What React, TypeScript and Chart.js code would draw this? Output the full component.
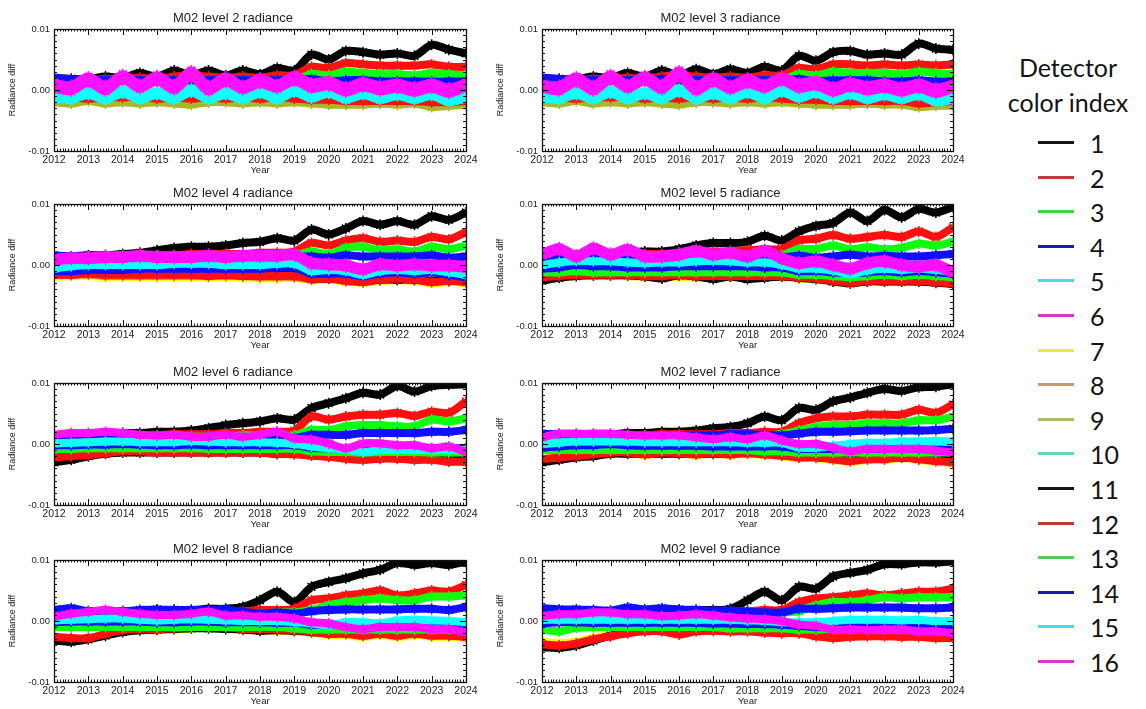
import React, { useEffect, useRef } from "react";
import { Chart, registerables } from "chart.js";

Chart.register(...registerables);

// ---- axes / categories -------------------------------------------------
// sample times (half-year grid)
const YEARS = [
  2012, 2012.5, 2013, 2013.5, 2014, 2014.5, 2015, 2015.5, 2016, 2016.5, 2017, 2017.5,
  2018, 2018.5, 2019, 2019.5, 2020, 2020.5, 2021, 2021.5, 2022, 2022.5, 2023, 2023.5, 2024,
];
const X_TICKS = [2012, 2013, 2014, 2015, 2016, 2017, 2018, 2019, 2020, 2021, 2022, 2023, 2024];
// radiance diff values below are in units of 0.001
const Y_TICKS = [-10, 0, 10];
const X_MINOR_PER_MAJOR = 12;
const Y_MINOR_PER_MAJOR = 10;

const DETECTORS = [1, 2, 3, 4, 5, 6, 7, 8, 9, 10, 11, 12, 13, 14, 15, 16];
const PLOT_COLORS = [
  "#000000", "#ff1010", "#10ff10", "#1010ff", "#10ffff", "#ff10ff", "#ffff20", "#d8982a",
  "#a8b828", "#40e0b8", "#000000", "#ff1010", "#10ff10", "#1010ff", "#10ffff", "#ff10ff",
];
const LEGEND_COLORS = [
  "#151515", "#c23b3b", "#3ed63e", "#1c1ca8", "#3ee0e8", "#d838c8", "#f2ea48", "#c89a68",
  "#b4bc6c", "#62d6b8", "#151515", "#bc3c3c", "#5ac85a", "#1c1ca8", "#3ee0e8", "#d838c8",
];
// bottom layers first (higher order = drawn earlier)
const DRAW_ORDER = [24, 23, 22, 20, 17, 15, 30, 29, 28, 27, 26, 25, 21, 19, 18, 16];

// ---- level 2 -----------------------------------------------------------
const L2_D01 = [2.0, 1.8, 1.8, 2.2, 2.0, 2.8, 2.2, 3.2, 2.4, 3.2, 2.4, 3.2, 2.6, 3.6, 3.2, 5.8, 5.0, 6.4, 6.2, 5.8, 6.0, 5.6, 7.4, 6.6, 6.0];
const L2_D02 = [1.6, 1.6, 1.6, 1.8, 1.8, 2.0, 1.8, 2.2, 2.4, 2.2, 2.0, 2.2, 2.0, 2.4, 2.4, 3.8, 3.6, 4.4, 4.2, 4.0, 4.0, 4.0, 4.2, 3.8, 3.8];
const L2_D03 = [1.2, 1.2, 1.2, 1.4, 1.4, 1.6, 1.4, 1.6, 1.4, 1.6, 1.4, 1.6, 1.4, 1.6, 1.6, 2.6, 2.4, 3.0, 2.8, 2.6, 2.6, 2.4, 2.8, 2.6, 2.4];
const L2_D04 = [2.0, 1.8, 1.6, 1.6, 1.6, 1.6, 1.6, 1.6, 1.6, 1.6, 1.6, 1.6, 1.6, 1.6, 1.6, 1.8, 1.4, 1.6, 1.6, 1.4, 1.4, 1.4, 1.4, 1.4, 1.4];
const L2_D05 = [-0.8, -1.2, -0.2, -1.2, 0.0, -1.0, -0.2, -1.0, 0.2, -1.2, -0.2, -1.0, 0.0, -1.0, 0.2, -0.8, 0.0, -1.0, -0.2, -1.0, -0.4, -1.0, -0.4, -1.4, -0.8];
const L2_D06 = [1.2, 0.8, 2.2, 0.8, 2.6, 1.0, 2.4, 1.0, 3.2, 0.8, 2.2, 0.8, 2.0, 1.0, 2.4, 1.2, 1.6, 0.6, 1.4, 0.8, 1.2, 0.6, 1.2, 0.4, 1.2];
const L2_D08 = [-1.8, -2.0, -1.6, -2.0, -1.8, -2.0, -1.8, -2.0, -2.2, -2.0, -1.8, -2.0, -1.8, -2.0, -1.8, -2.0, -2.2, -2.2, -2.2, -2.2, -2.2, -2.0, -2.6, -2.4, -2.2];
const L2_D09 = [-2.0, -2.2, -1.8, -2.2, -2.0, -2.2, -2.0, -2.2, -2.4, -2.0, -2.0, -2.2, -2.0, -2.2, -2.0, -2.2, -2.4, -2.4, -2.4, -2.2, -2.4, -2.2, -2.8, -2.6, -2.4];
const L2_D12 = [-1.4, -1.2, -1.4, -1.2, -1.2, -1.0, -1.4, -1.2, -1.4, -1.2, -1.4, -1.2, -1.4, -1.2, -1.4, -1.6, -1.6, -1.8, -1.8, -1.8, -1.8, -1.8, -2.0, -2.0, -1.8];
const L2_D15 = [-1.4, -1.6, -0.8, -1.6, -0.6, -1.6, -0.8, -1.6, -0.4, -1.6, -0.8, -1.6, -0.6, -1.6, -0.4, -1.4, -0.6, -1.6, -0.8, -1.6, -1.0, -1.6, -1.0, -2.0, -1.4];
const L2_D16 = [0.2, -0.2, 1.2, -0.2, 1.6, 0.2, 1.4, 0.0, 2.0, -0.2, 1.2, 0.0, 1.0, 0.2, 1.4, 0.2, 0.6, -0.4, 0.4, -0.2, 0.2, -0.4, 0.2, -0.6, 0.4];

// ---- level 3 -----------------------------------------------------------
const L3_D01 = [2.0, 1.8, 1.8, 2.2, 2.0, 2.8, 2.2, 3.2, 2.4, 3.4, 2.6, 3.4, 2.8, 3.8, 3.2, 5.6, 4.8, 6.2, 6.4, 5.8, 6.0, 5.8, 7.6, 6.8, 6.6];
const L3_D02 = [1.6, 1.6, 1.6, 1.8, 1.8, 2.0, 1.8, 2.2, 2.4, 2.2, 2.0, 2.2, 2.0, 2.4, 2.4, 3.6, 3.4, 4.2, 4.2, 4.0, 4.2, 4.0, 4.2, 4.0, 4.2];
const L3_D03 = [1.2, 1.2, 1.2, 1.4, 1.4, 1.6, 1.4, 1.6, 1.4, 1.6, 1.4, 1.6, 1.4, 1.6, 1.6, 2.6, 2.4, 3.0, 2.8, 2.8, 2.8, 2.6, 3.0, 2.8, 2.6];
const L3_D04 = [2.0, 1.8, 1.6, 1.6, 1.6, 1.6, 1.6, 1.8, 1.6, 1.6, 1.6, 1.6, 1.6, 1.6, 1.6, 1.8, 1.4, 1.6, 1.6, 1.6, 1.4, 1.4, 1.6, 1.4, 1.4];
const L3_D05 = [-0.8, -1.2, -0.2, -1.2, 0.0, -1.0, -0.2, -1.0, 0.2, -1.2, -0.2, -1.0, 0.0, -1.0, 0.2, -0.8, 0.0, -1.0, -0.2, -1.0, -0.4, -1.0, -0.4, -1.4, -1.0];
const L3_D06 = [1.0, 0.8, 2.2, 0.8, 2.6, 1.0, 2.4, 1.0, 3.2, 0.8, 2.2, 0.8, 2.0, 1.0, 2.2, 1.2, 1.6, 0.6, 1.4, 0.8, 1.2, 0.6, 1.2, 0.4, 1.0];
const L3_D08 = [-1.8, -2.0, -1.6, -2.0, -1.8, -2.0, -1.8, -2.0, -2.2, -2.0, -1.8, -2.0, -1.8, -2.0, -1.8, -2.0, -2.2, -2.2, -2.2, -2.2, -2.2, -2.2, -2.6, -2.4, -2.4];
const L3_D09 = [-2.0, -2.2, -1.8, -2.2, -2.0, -2.2, -2.0, -2.2, -2.4, -2.0, -2.0, -2.2, -2.0, -2.2, -2.0, -2.2, -2.4, -2.4, -2.4, -2.2, -2.4, -2.4, -2.8, -2.6, -2.6];
const L3_D12 = [-1.4, -1.2, -1.4, -1.2, -1.2, -1.0, -1.4, -1.2, -1.4, -1.2, -1.4, -1.2, -1.4, -1.2, -1.4, -1.6, -1.6, -1.8, -1.8, -1.8, -1.8, -1.8, -2.2, -2.0, -1.8];
const L3_D15 = [-1.4, -1.6, -0.8, -1.6, -0.6, -1.6, -0.8, -1.6, -0.4, -1.6, -0.8, -1.6, -0.6, -1.6, -0.4, -1.4, -0.6, -1.6, -0.8, -1.6, -1.0, -1.6, -1.0, -2.0, -1.6];
const L3_D16 = [0.2, -0.2, 1.2, -0.2, 1.6, 0.2, 1.4, 0.0, 2.0, -0.2, 1.2, 0.0, 1.0, 0.2, 1.4, 0.2, 0.6, -0.4, 0.4, -0.2, 0.2, -0.4, 0.2, -0.6, 0.2];

// ---- level 4 -----------------------------------------------------------
const L4_D01 = [1.4, 1.4, 1.6, 1.6, 1.8, 2.0, 2.4, 2.8, 3.0, 3.0, 3.2, 3.6, 3.8, 4.4, 4.0, 5.8, 5.0, 6.0, 7.2, 6.6, 7.2, 6.6, 8.0, 7.4, 8.6];
const L4_D02 = [1.2, 1.2, 1.4, 1.4, 1.4, 1.6, 1.6, 1.6, 1.8, 1.8, 1.8, 1.8, 2.0, 2.0, 2.2, 3.6, 3.2, 4.0, 4.4, 3.8, 4.0, 3.8, 4.6, 4.2, 5.4];
const L4_D03 = [1.0, 1.0, 1.0, 1.2, 1.2, 1.2, 1.2, 1.4, 1.4, 1.4, 1.4, 1.4, 1.4, 1.6, 1.6, 2.2, 1.8, 2.8, 3.0, 2.4, 2.6, 2.2, 3.0, 2.6, 3.2];
const L4_D04 = [1.6, 1.4, 1.4, 1.4, 1.4, 1.4, 1.4, 1.4, 1.4, 1.4, 1.4, 1.4, 1.4, 1.4, 1.4, 1.4, 1.2, 1.6, 1.4, 1.4, 1.4, 1.4, 1.6, 1.2, 1.4];
const L4_D05 = [-0.6, -0.2, 0.0, 0.0, 0.0, 0.0, 0.0, 0.2, 0.2, 0.2, 0.0, 0.0, 0.0, 0.2, 0.2, -1.0, -0.8, -1.0, -1.6, -1.0, -0.8, -1.0, -0.8, -1.2, -1.6];
const L4_D06 = [1.2, 1.4, 1.4, 1.6, 1.6, 1.8, 1.6, 1.6, 1.6, 1.8, 1.6, 1.8, 1.8, 1.8, 2.0, 0.6, 0.4, 0.2, -0.4, 0.4, 0.2, 0.4, 0.2, 0.2, 0.0];
const L4_D07 = [-1.9, -1.8, -1.8, -2.0, -1.9, -2.0, -2.0, -2.0, -2.0, -2.1, -2.0, -2.1, -2.2, -2.2, -2.1, -2.5, -2.4, -2.7, -2.9, -2.6, -2.5, -2.6, -3.0, -2.8, -3.0];
const L4_D08 = [-1.6, -1.6, -1.6, -1.8, -1.8, -1.8, -1.8, -1.8, -1.8, -1.8, -1.8, -1.8, -2.0, -2.0, -2.0, -2.4, -2.2, -2.4, -2.6, -2.4, -2.4, -2.4, -2.6, -2.6, -2.8];
const L4_D11 = [-1.4, -1.4, -1.2, -1.2, -1.2, -1.2, -1.2, -1.4, -1.4, -1.4, -1.4, -1.4, -1.4, -1.4, -1.6, -2.2, -2.2, -2.4, -2.6, -2.4, -2.4, -2.4, -2.6, -2.6, -2.6];
const L4_D12 = [-1.6, -1.6, -1.4, -1.6, -1.6, -1.6, -1.6, -1.6, -1.6, -1.8, -1.6, -1.8, -1.8, -1.8, -1.8, -2.2, -2.2, -2.6, -2.8, -2.4, -2.2, -2.4, -2.8, -2.6, -2.8];
const L4_D14 = [-1.0, -1.0, -0.8, -0.8, -0.8, -0.6, -0.6, -0.6, -0.6, -0.6, -0.6, -0.6, -0.6, -0.4, -0.4, -1.4, -1.4, -1.4, -1.8, -1.4, -1.2, -1.4, -1.2, -1.6, -2.0];
const L4_D16 = [0.6, 0.8, 0.8, 1.0, 1.0, 1.2, 1.0, 1.0, 1.0, 1.2, 1.0, 1.2, 1.2, 1.2, 1.4, 0.0, -0.2, -0.4, -1.0, -0.2, -0.4, -0.2, -0.4, -0.4, -0.6];

// ---- level 5 -----------------------------------------------------------
const L5_D01 = [1.6, 1.8, 1.6, 1.8, 1.8, 2.0, 2.2, 2.2, 2.6, 3.2, 3.6, 3.6, 3.8, 4.8, 4.0, 5.5, 6.4, 6.9, 8.6, 7.2, 9.0, 7.8, 9.2, 8.6, 9.5];
const L5_D02 = [1.4, 1.4, 1.4, 1.6, 1.6, 1.6, 1.8, 1.8, 2.0, 2.0, 2.2, 2.2, 2.4, 2.6, 2.6, 4.0, 4.3, 4.9, 4.3, 4.6, 4.9, 4.6, 5.5, 4.6, 6.2];
const L5_D03 = [1.0, 1.0, 1.2, 1.2, 1.2, 1.2, 1.2, 1.4, 1.4, 1.4, 1.4, 1.4, 1.4, 1.6, 1.6, 2.6, 2.6, 3.2, 2.6, 2.9, 2.6, 2.8, 3.5, 3.2, 3.8];
const L5_D04 = [1.2, 1.2, 1.2, 1.2, 1.2, 1.2, 1.2, 1.2, 1.2, 1.2, 1.2, 1.2, 1.2, 1.2, 1.2, 1.5, 1.2, 1.4, 1.7, 1.4, 1.5, 1.4, 1.4, 1.6, 1.8];
const L5_D05 = [0.0, 0.4, 0.7, 0.6, 0.6, 0.4, 0.3, 0.4, 0.4, 0.6, 0.7, 0.6, 0.4, 0.4, 0.0, -0.6, -0.6, -0.9, -1.5, -0.9, -0.6, -0.8, -0.6, -0.8, -1.2];
const L5_D06 = [2.0, 2.9, 1.7, 3.0, 2.0, 2.8, 1.7, 1.7, 2.0, 2.6, 2.0, 2.3, 1.7, 2.6, 1.4, 0.6, 0.9, 0.3, -0.3, 0.6, 0.9, 0.3, 0.0, 0.3, -0.9];
const L5_D07 = [-2.1, -2.0, -1.8, -1.8, -1.8, -1.8, -2.0, -2.0, -2.0, -2.1, -2.1, -2.0, -2.0, -2.0, -2.0, -2.2, -2.4, -2.7, -3.0, -2.7, -2.7, -2.7, -2.7, -2.9, -3.1];
const L5_D11 = [-2.6, -2.1, -1.8, -1.7, -1.7, -1.7, -1.9, -2.2, -1.7, -1.9, -2.3, -1.9, -2.3, -2.1, -1.9, -2.1, -2.3, -2.7, -3.0, -2.7, -2.7, -2.7, -2.7, -2.9, -3.1];
const L5_D12 = [-2.0, -1.8, -1.6, -1.6, -1.6, -1.6, -1.8, -1.8, -1.6, -1.8, -1.8, -1.8, -1.8, -1.8, -1.8, -2.0, -2.2, -2.6, -2.9, -2.6, -2.6, -2.6, -2.6, -2.8, -3.0];
const L5_D13 = [-1.2, -1.2, -1.0, -1.2, -1.2, -1.2, -1.2, -1.2, -1.2, -1.2, -1.2, -1.2, -1.2, -1.2, -1.2, -1.6, -1.6, -1.8, -2.0, -1.8, -1.6, -1.8, -1.6, -1.8, -2.0];
const L5_D14 = [-0.6, -0.4, 0.0, -0.2, -0.2, -0.4, -0.4, -0.4, -0.2, -0.2, -0.2, -0.2, -0.2, -0.4, -0.4, -1.0, -1.0, -1.2, -1.4, -1.2, -1.0, -1.2, -1.0, -1.2, -1.4];
const L5_D16 = [1.4, 2.3, 1.1, 2.4, 1.4, 2.2, 1.1, 1.1, 1.4, 2.0, 1.4, 1.7, 1.1, 2.0, 0.8, 0.0, 0.3, -0.3, -0.9, 0.0, 0.3, -0.3, -0.6, -0.3, -1.5];

// ---- level 6 -----------------------------------------------------------
const L6_D01 = [1.4, 1.4, 1.6, 1.6, 1.8, 1.8, 2.0, 2.0, 2.2, 2.6, 3.1, 3.4, 3.7, 4.2, 4.0, 5.9, 6.7, 7.5, 8.4, 8.1, 9.5, 8.6, 9.5, 9.7, 9.8];
const L6_D02 = [1.2, 1.2, 1.2, 1.4, 1.4, 1.4, 1.4, 1.6, 1.6, 1.6, 1.8, 1.8, 2.0, 2.0, 2.2, 4.5, 4.0, 4.5, 4.8, 4.8, 5.1, 4.6, 5.3, 5.1, 7.0];
const L6_D03 = [1.0, 1.0, 1.0, 1.0, 1.0, 1.2, 1.2, 1.2, 1.2, 1.2, 1.2, 1.4, 1.4, 1.4, 1.4, 2.3, 2.3, 2.9, 3.1, 3.1, 2.9, 2.9, 4.0, 3.7, 4.2];
const L6_D04 = [1.5, 1.2, 1.2, 1.2, 1.2, 1.2, 1.2, 1.2, 1.0, 1.2, 1.0, 1.0, 1.0, 1.2, 1.0, 1.5, 1.5, 1.5, 1.8, 1.8, 1.8, 1.8, 2.0, 2.0, 2.3];
const L6_D05 = [0.1, 0.2, 0.3, 0.4, 0.4, 0.3, 0.3, 0.3, 0.5, 0.4, 0.3, 0.3, 0.3, 0.2, 0.0, -0.4, -0.7, -0.9, -1.3, -1.0, -1.0, -1.0, -1.0, -1.0, -1.0];
const L6_D06 = [1.5, 1.8, 1.8, 2.0, 1.8, 1.5, 1.4, 1.5, 1.2, 1.2, 1.5, 1.2, 1.5, 2.0, 0.9, 0.7, 0.1, -0.7, 0.1, 0.1, -0.2, -0.2, -0.7, -0.4, -1.3];
const L6_D11 = [-3.0, -2.6, -2.0, -1.6, -1.4, -1.4, -1.4, -1.4, -1.4, -1.4, -1.4, -1.4, -1.4, -1.6, -1.6, -1.8, -2.0, -2.2, -2.4, -2.2, -2.2, -2.2, -2.4, -2.4, -2.6];
const L6_D12 = [-2.2, -2.0, -1.8, -1.5, -1.2, -1.2, -1.4, -1.4, -1.4, -1.4, -1.4, -1.4, -1.4, -1.6, -1.7, -1.9, -2.1, -2.4, -2.6, -2.4, -2.4, -2.6, -2.6, -2.9, -2.9];
const L6_D13 = [-0.8, -0.8, -0.7, -0.7, -0.7, -0.7, -0.7, -0.7, -0.7, -0.8, -0.8, -0.8, -0.8, -0.8, -0.8, -1.2, -1.3, -1.3, -1.4, -1.3, -1.3, -1.3, -1.4, -1.4, -1.4];
const L6_D14 = [-0.2, -0.2, -0.1, -0.1, 0.0, -0.1, -0.2, -0.2, -0.1, -0.2, -0.2, -0.2, -0.2, -0.2, -0.2, -0.6, -0.7, -0.8, -0.9, -0.8, -0.8, -0.8, -0.7, -0.7, -0.7];

// ---- level 7 -----------------------------------------------------------
const L7_D01 = [1.4, 1.4, 1.6, 1.6, 1.6, 1.8, 1.8, 2.0, 2.0, 2.2, 2.6, 2.8, 3.4, 4.5, 3.9, 5.9, 5.6, 7.0, 7.6, 8.4, 9.0, 8.7, 9.3, 9.4, 9.8];
const L7_D02 = [1.2, 1.2, 1.2, 1.4, 1.4, 1.4, 1.4, 1.6, 1.6, 1.6, 1.6, 1.8, 1.8, 2.0, 2.0, 3.4, 4.2, 4.5, 4.5, 4.8, 4.8, 4.8, 5.6, 5.1, 6.5];
const L7_D03 = [1.0, 1.0, 1.0, 1.0, 1.2, 1.2, 1.2, 1.2, 1.2, 1.2, 1.2, 1.4, 1.4, 1.4, 1.6, 2.2, 2.8, 3.1, 3.1, 3.4, 3.4, 3.4, 3.9, 3.9, 4.5];
const L7_D04 = [1.7, 1.6, 1.5, 1.4, 1.4, 1.4, 1.4, 1.4, 1.4, 1.4, 1.4, 1.6, 1.6, 1.5, 1.4, 1.7, 2.0, 2.0, 2.1, 2.2, 2.2, 2.2, 2.2, 2.3, 2.5];
const L7_D05 = [0.0, 0.2, 0.4, 0.4, 0.4, 0.4, 0.3, 0.3, 0.3, 0.3, 0.3, 0.3, 0.2, 0.2, 0.2, -0.6, -0.6, -0.3, 0.0, 0.2, 0.2, 0.4, 0.4, 0.5, 0.4];
const L7_D06 = [1.1, 1.7, 1.7, 1.7, 1.7, 1.5, 1.4, 1.4, 1.4, 1.1, 0.8, 1.1, 0.8, 1.4, 0.6, 0.0, 0.0, -0.6, -1.2, -0.8, -0.8, -0.8, -0.8, -1.1, -1.4];
const L7_D07 = [-2.4, -2.1, -1.4, -1.3, -1.5, -1.5, -1.8, -1.5, -1.6, -1.8, -1.6, -1.8, -1.6, -1.8, -2.0, -2.3, -2.3, -2.6, -2.9, -2.6, -2.6, -2.3, -2.6, -2.9, -3.1];
const L7_D11 = [-3.0, -2.6, -2.2, -2.0, -1.6, -1.6, -1.6, -1.6, -1.6, -1.6, -1.6, -1.6, -1.4, -1.6, -1.8, -2.0, -2.0, -2.2, -2.4, -2.2, -2.2, -2.2, -2.4, -2.4, -2.6];
const L7_D12 = [-2.5, -2.2, -2.0, -1.7, -1.4, -1.4, -1.7, -1.4, -1.5, -1.7, -1.5, -1.7, -1.5, -1.7, -1.9, -2.2, -2.2, -2.5, -2.8, -2.5, -2.5, -2.2, -2.5, -2.8, -3.0];
const L7_D13 = [-1.0, -1.0, -1.0, -1.0, -1.0, -1.0, -1.0, -1.0, -1.0, -1.0, -1.0, -1.0, -1.0, -1.2, -1.2, -1.4, -1.4, -1.4, -1.4, -1.4, -1.4, -1.4, -1.4, -1.4, -1.4];
const L7_D14 = [-0.6, -0.4, -0.2, -0.2, 0.0, -0.2, -0.3, -0.3, -0.3, -0.3, -0.4, -0.4, -0.4, -0.4, -0.4, -0.8, -0.8, -0.8, -0.6, -0.8, -0.8, -0.8, -0.8, -0.9, -0.9];

// ---- level 8 -----------------------------------------------------------
const L8_D01 = [1.4, 1.4, 1.6, 1.6, 1.6, 1.6, 1.8, 1.8, 1.8, 2.0, 2.0, 2.3, 3.4, 4.8, 3.1, 5.6, 6.4, 7.0, 7.8, 8.4, 9.5, 9.2, 9.5, 9.2, 9.7];
const L8_D02 = [1.2, 1.2, 1.2, 1.2, 1.4, 1.4, 1.4, 1.4, 1.6, 1.6, 1.6, 1.6, 1.8, 1.8, 2.0, 3.4, 3.7, 4.2, 4.5, 5.0, 4.2, 4.5, 5.0, 4.8, 5.9];
const L8_D03 = [1.0, 1.0, 1.0, 1.0, 1.0, 1.2, 1.2, 1.2, 1.2, 1.2, 1.2, 1.2, 1.2, 1.4, 1.4, 1.8, 2.6, 3.1, 3.4, 3.7, 3.4, 3.4, 4.0, 4.0, 4.2];
const L8_D04 = [1.8, 2.1, 1.6, 1.5, 1.6, 1.8, 1.9, 1.8, 1.8, 1.8, 1.9, 1.5, 1.2, 1.4, 1.2, 1.6, 1.8, 1.9, 1.9, 1.9, 1.9, 2.0, 2.0, 1.8, 2.3];
const L8_D05 = [0.1, 0.2, 0.3, 0.4, 0.4, 0.2, 0.1, 0.2, 0.3, 0.2, 0.1, 0.0, 0.0, 0.0, -0.2, -0.4, -0.7, -0.2, -0.2, -0.4, 0.1, 0.2, 0.1, 0.0, -0.2];
const L8_D06 = [0.7, 1.2, 1.5, 1.8, 1.5, 1.2, 1.0, 1.0, 1.2, 1.5, 0.9, 0.9, 0.7, 0.7, 0.4, -0.2, -0.4, -1.0, -1.3, -1.0, -1.0, -1.0, -1.3, -1.3, -1.8];
const L8_D07 = [-2.8, -3.0, -2.9, -2.2, -1.7, -1.5, -1.5, -1.4, -1.2, -1.1, -1.3, -1.5, -1.5, -1.6, -1.7, -1.9, -2.3, -2.3, -2.6, -2.3, -2.6, -2.3, -2.6, -2.6, -2.8];
const L8_D11 = [-3.2, -3.4, -3.0, -2.4, -1.8, -1.5, -1.4, -1.3, -1.2, -1.2, -1.3, -1.4, -1.6, -1.5, -1.6, -1.8, -2.0, -2.0, -2.2, -2.0, -2.0, -2.0, -2.2, -2.2, -2.2];
const L8_D12 = [-2.6, -2.8, -2.8, -2.1, -1.5, -1.3, -1.3, -1.2, -1.0, -0.8, -1.0, -1.3, -1.3, -1.4, -1.5, -1.7, -2.1, -2.1, -2.4, -2.1, -2.4, -2.1, -2.4, -2.4, -2.6];
const L8_D13 = [-1.0, -1.0, -1.0, -1.0, -1.0, -1.0, -1.0, -1.0, -1.0, -1.0, -1.0, -1.0, -1.0, -1.0, -1.2, -1.4, -1.4, -1.4, -1.4, -1.4, -1.4, -1.4, -1.4, -1.4, -1.4];
const L8_D14 = [-0.2, -0.1, -0.1, -0.1, -0.1, -0.1, -0.2, -0.2, -0.1, -0.1, -0.2, -0.2, -0.2, -0.3, -0.3, -0.6, -0.6, -0.7, -0.7, -0.7, -0.7, -0.8, -0.8, -0.8, -0.8];

// ---- level 9 -----------------------------------------------------------
const L9_D01 = [1.4, 1.4, 1.4, 1.6, 1.6, 1.6, 1.6, 1.8, 1.8, 1.8, 1.8, 2.0, 3.4, 4.8, 3.4, 5.6, 5.3, 7.3, 7.9, 8.4, 9.3, 9.3, 9.6, 9.6, 9.8];
const L9_D02 = [1.2, 1.2, 1.2, 1.2, 1.4, 1.4, 1.4, 1.4, 1.4, 1.6, 1.6, 1.6, 1.6, 1.8, 1.8, 3.1, 3.7, 3.9, 4.2, 4.5, 4.2, 4.5, 4.8, 4.8, 5.3];
const L9_D03 = [1.0, 1.0, 1.0, 1.0, 1.0, 1.0, 1.2, 1.2, 1.2, 1.2, 1.2, 1.2, 1.2, 1.2, 1.4, 1.6, 2.5, 3.1, 3.1, 3.4, 3.9, 3.7, 3.9, 3.9, 3.9];
const L9_D04 = [2.1, 1.9, 1.9, 1.8, 1.7, 2.2, 1.9, 2.1, 1.9, 1.8, 1.7, 1.7, 1.5, 1.4, 1.4, 2.0, 2.0, 2.1, 2.2, 2.2, 2.2, 2.2, 2.1, 2.1, 2.2];
const L9_D05 = [0.2, 0.2, 0.2, 0.2, 0.2, 0.2, 0.2, 0.2, 0.2, 0.2, 0.2, 0.2, 0.1, 0.0, -0.2, -0.2, -0.2, 0.0, 0.2, 0.2, 0.2, 0.1, 0.2, 0.0, 0.0];
const L9_D06 = [0.8, 1.1, 1.1, 1.4, 1.4, 1.1, 1.1, 0.8, 0.9, 1.1, 0.9, 0.6, 0.4, 0.3, 0.0, -0.6, -0.8, -1.4, -1.4, -1.5, -1.4, -1.4, -1.7, -1.7, -2.0];
const L9_D07 = [-3.4, -3.6, -3.4, -2.7, -2.2, -1.8, -1.5, -1.5, -1.9, -1.5, -1.4, -1.5, -1.5, -1.7, -1.8, -1.9, -2.3, -2.6, -2.4, -2.3, -2.3, -2.4, -2.4, -2.6, -2.6];
const L9_D11 = [-4.3, -4.4, -4.0, -3.2, -2.4, -1.8, -1.5, -1.3, -1.3, -1.2, -1.2, -1.4, -1.4, -1.4, -1.6, -1.8, -2.0, -2.0, -2.2, -2.2, -2.2, -2.2, -2.2, -2.2, -2.4];
const L9_D12 = [-3.8, -4.0, -3.7, -3.0, -2.5, -2.0, -1.7, -1.7, -2.2, -1.7, -1.6, -1.7, -1.7, -1.9, -2.0, -2.0, -2.5, -2.8, -2.6, -2.5, -2.5, -2.6, -2.6, -2.8, -2.8];
const L9_D13 = [-1.4, -1.7, -1.1, -1.0, -1.0, -1.0, -1.0, -1.0, -1.0, -1.0, -1.0, -1.2, -1.2, -1.2, -1.2, -1.4, -1.4, -1.4, -1.4, -1.4, -1.4, -1.4, -1.4, -1.4, -1.4];
const L9_D14 = [-0.4, -0.2, -0.2, -0.3, -0.3, -0.3, -0.3, -0.3, -0.3, -0.3, -0.4, -0.4, -0.5, -0.5, -0.6, -0.8, -1.0, -1.0, -1.0, -1.0, -1.0, -1.0, -1.1, -1.1, -1.1];

type PanelDef = { title: string; col: number; row: number; series: [number, number[]][] };

const PANELS: PanelDef[] = [
  { title: "M02 level 2 radiance", col: 0, row: 0, series: [[1, L2_D01], [2, L2_D02], [3, L2_D03], [4, L2_D04], [5, L2_D05], [6, L2_D06], [8, L2_D08], [9, L2_D09], [12, L2_D12], [15, L2_D15], [16, L2_D16]] },
  { title: "M02 level 3 radiance", col: 1, row: 0, series: [[1, L3_D01], [2, L3_D02], [3, L3_D03], [4, L3_D04], [5, L3_D05], [6, L3_D06], [8, L3_D08], [9, L3_D09], [12, L3_D12], [15, L3_D15], [16, L3_D16]] },
  { title: "M02 level 4 radiance", col: 0, row: 1, series: [[1, L4_D01], [2, L4_D02], [3, L4_D03], [4, L4_D04], [5, L4_D05], [6, L4_D06], [7, L4_D07], [8, L4_D08], [11, L4_D11], [12, L4_D12], [14, L4_D14], [16, L4_D16]] },
  { title: "M02 level 5 radiance", col: 1, row: 1, series: [[1, L5_D01], [2, L5_D02], [3, L5_D03], [4, L5_D04], [5, L5_D05], [6, L5_D06], [7, L5_D07], [11, L5_D11], [12, L5_D12], [13, L5_D13], [14, L5_D14], [16, L5_D16]] },
  { title: "M02 level 6 radiance", col: 0, row: 2, series: [[1, L6_D01], [2, L6_D02], [3, L6_D03], [4, L6_D04], [5, L6_D05], [6, L6_D06], [11, L6_D11], [12, L6_D12], [13, L6_D13], [14, L6_D14]] },
  { title: "M02 level 7 radiance", col: 1, row: 2, series: [[1, L7_D01], [2, L7_D02], [3, L7_D03], [4, L7_D04], [5, L7_D05], [6, L7_D06], [7, L7_D07], [11, L7_D11], [12, L7_D12], [13, L7_D13], [14, L7_D14]] },
  { title: "M02 level 8 radiance", col: 0, row: 3, series: [[1, L8_D01], [2, L8_D02], [3, L8_D03], [4, L8_D04], [5, L8_D05], [6, L8_D06], [7, L8_D07], [11, L8_D11], [12, L8_D12], [13, L8_D13], [14, L8_D14]] },
  { title: "M02 level 9 radiance", col: 1, row: 3, series: [[1, L9_D01], [2, L9_D02], [3, L9_D03], [4, L9_D04], [5, L9_D05], [6, L9_D06], [7, L9_D07], [11, L9_D11], [12, L9_D12], [13, L9_D13], [14, L9_D14]] },
];

// ---- layout ---------------------------------------------------------------
const COL_PLOT_LEFT = [54, 542];
const COL_PLOT_WIDTH = [412, 411];
const ROW_PLOT_TOP = [29, 204, 383, 560];
const PLOT_HEIGHT = 122;
const Y_AXIS_W = 54;
const TITLE_H = 29;
const X_AXIS_H = 29;
const RIGHT_PAD = 16;

const SANS = '"Liberation Sans", Arial, Helvetica, sans-serif';
const NARROW = '"Liberation Sans Narrow", "Arial Narrow", "Liberation Sans", Arial, sans-serif';
const TEXT = "#1e1e1e";

const framePlugin = {
  id: "idlFrame",
  afterDatasetsDraw(chart: any) {
    const { ctx, chartArea: a, scales } = chart;
    const x = scales.x;
    const y = scales.y;
    ctx.save();
    ctx.strokeStyle = "#111";
    ctx.lineWidth = 1;
    for (let i = 0; i < X_TICKS.length; i++) {
      const px = Math.round(x.getPixelForValue(X_TICKS[i])) + 0.5;
      ctx.beginPath();
      ctx.moveTo(px, a.bottom); ctx.lineTo(px, a.bottom - 6);
      ctx.moveTo(px, a.top); ctx.lineTo(px, a.top + 6);
      ctx.stroke();
      if (i < X_TICKS.length - 1) {
        const step = (X_TICKS[i + 1] - X_TICKS[i]) / X_MINOR_PER_MAJOR;
        for (let m = 1; m < X_MINOR_PER_MAJOR; m++) {
          const mx = Math.round(x.getPixelForValue(X_TICKS[i] + m * step)) + 0.5;
          ctx.beginPath();
          ctx.moveTo(mx, a.bottom); ctx.lineTo(mx, a.bottom - 2.5);
          ctx.moveTo(mx, a.top); ctx.lineTo(mx, a.top + 2.5);
          ctx.stroke();
        }
      }
    }
    for (let i = 0; i < Y_TICKS.length; i++) {
      const py = Math.round(y.getPixelForValue(Y_TICKS[i])) + 0.5;
      ctx.beginPath();
      ctx.moveTo(a.left, py); ctx.lineTo(a.left + 6, py);
      ctx.moveTo(a.right, py); ctx.lineTo(a.right - 6, py);
      ctx.stroke();
      if (i < Y_TICKS.length - 1) {
        const step = (Y_TICKS[i + 1] - Y_TICKS[i]) / Y_MINOR_PER_MAJOR;
        for (let m = 1; m < Y_MINOR_PER_MAJOR; m++) {
          const my = Math.round(y.getPixelForValue(Y_TICKS[i] + m * step)) + 0.5;
          ctx.beginPath();
          ctx.moveTo(a.left, my); ctx.lineTo(a.left + 3, my);
          ctx.moveTo(a.right, my); ctx.lineTo(a.right - 3, my);
          ctx.stroke();
        }
      }
    }
    ctx.lineWidth = 1.3;
    ctx.strokeRect(Math.round(a.left) + 0.5, Math.round(a.top) + 0.5, Math.round(a.right - a.left), Math.round(a.bottom - a.top));
    ctx.restore();
  },
};

function Panel({ def }: { def: PanelDef }) {
  const ref = useRef<HTMLCanvasElement | null>(null);
  const width = Y_AXIS_W + COL_PLOT_WIDTH[def.col] + RIGHT_PAD;
  const height = TITLE_H + PLOT_HEIGHT + X_AXIS_H;
  const left = COL_PLOT_LEFT[def.col] - Y_AXIS_W;
  const top = ROW_PLOT_TOP[def.row] - TITLE_H;

  useEffect(() => {
    if (!ref.current) return;
    const datasets = def.series.map(([det, values]) => {
      const c = PLOT_COLORS[det - 1];
      return {
        label: String(det),
        data: YEARS.map((yr, i) => ({ x: yr, y: values[i] })),
        borderColor: c,
        backgroundColor: c,
        borderWidth: 8,
        tension: 0.3,
        pointStyle: "star" as const,
        pointRadius: 5.5,
        pointBorderWidth: 1.5,
        pointBorderColor: c,
        fill: false,
        order: DRAW_ORDER[det - 1],
        clip: 0,
      };
    });
    const chart = new Chart(ref.current, {
      type: "line",
      data: { datasets },
      options: {
        animation: false,
        responsive: false,
        maintainAspectRatio: false,
        events: [],
        layout: { padding: { left: 0, top: 0, right: RIGHT_PAD, bottom: 0 } },
        plugins: {
          legend: { display: false },
          tooltip: { enabled: false },
          title: {
            display: true,
            text: def.title,
            color: TEXT,
            font: { family: SANS, size: 13, weight: "normal", lineHeight: 1.2 },
            padding: { top: 11, bottom: TITLE_H - 11 - 15.6 },
          },
        },
        scales: {
          x: {
            type: "linear",
            min: X_TICKS[0],
            max: X_TICKS[X_TICKS.length - 1],
            afterBuildTicks: (s: any) => { s.ticks = X_TICKS.map((v) => ({ value: v })); },
            afterFit: (s: any) => { s.height = X_AXIS_H; },
            ticks: {
              autoSkip: false,
              maxRotation: 0,
              padding: 3,
              color: TEXT,
              font: { family: NARROW, size: 10.5 },
              callback: (v: any) => String(v),
            },
            grid: { display: false, drawTicks: false, tickLength: 0 },
            border: { display: false },
            title: { display: true, text: "Year", color: TEXT, font: { family: SANS, size: 9.5, lineHeight: 1.2 }, padding: { top: 0, bottom: 4 } },
          },
          y: {
            type: "linear",
            min: Y_TICKS[0],
            max: Y_TICKS[Y_TICKS.length - 1],
            afterBuildTicks: (s: any) => { s.ticks = Y_TICKS.map((v) => ({ value: v })); },
            afterFit: (s: any) => { s.width = Y_AXIS_W; },
            ticks: {
              padding: 4,
              color: TEXT,
              font: { family: SANS, size: 9.5 },
              callback: (v: any) => (Number(v) / 1000).toFixed(2),
            },
            grid: { display: false, drawTicks: false, tickLength: 0 },
            border: { display: false },
            title: { display: true, text: "Radiance diff", color: TEXT, font: { family: SANS, size: 9, lineHeight: 1.2 }, padding: { top: 7, bottom: 0 } },
          },
        },
      },
      plugins: [framePlugin],
    } as any);
    return () => chart.destroy();
  }, [def]);

  return (
    <canvas
      ref={ref}
      width={width}
      height={height}
      style={{ position: "absolute", left, top, width, height }}
    />
  );
}

const LEGEND_TOP = 143;
const LEGEND_STEP = 34.6;

export default function App() {
  return (
    <div style={{ position: "absolute", left: 0, top: 0, width: 1146, height: 709, background: "#fff", overflow: "hidden" }}>
      {PANELS.map((p) => (
        <Panel key={p.title} def={p} />
      ))}
      <div
        style={{
          position: "absolute", left: 990, top: 50, width: 156, textAlign: "center",
          fontFamily: "Lato, 'Open Sans', sans-serif", fontSize: 25, lineHeight: "35px", color: "#141414",
        }}
      >
        Detector<br />color index
      </div>
      {DETECTORS.map((d, i) => (
        <div key={d} style={{ position: "absolute", left: 1030, top: LEGEND_TOP + i * LEGEND_STEP - 17, height: 34, width: 116 }}>
          <div style={{ position: "absolute", left: 8, top: 15, width: 36, height: 3, background: LEGEND_COLORS[i] }} />
          <div style={{ position: "absolute", left: 60, top: 0, lineHeight: "34px", fontFamily: "Lato, 'Open Sans', sans-serif", fontSize: 25, color: "#141414" }}>
            {String(d)}
          </div>
        </div>
      ))}
    </div>
  );
}
